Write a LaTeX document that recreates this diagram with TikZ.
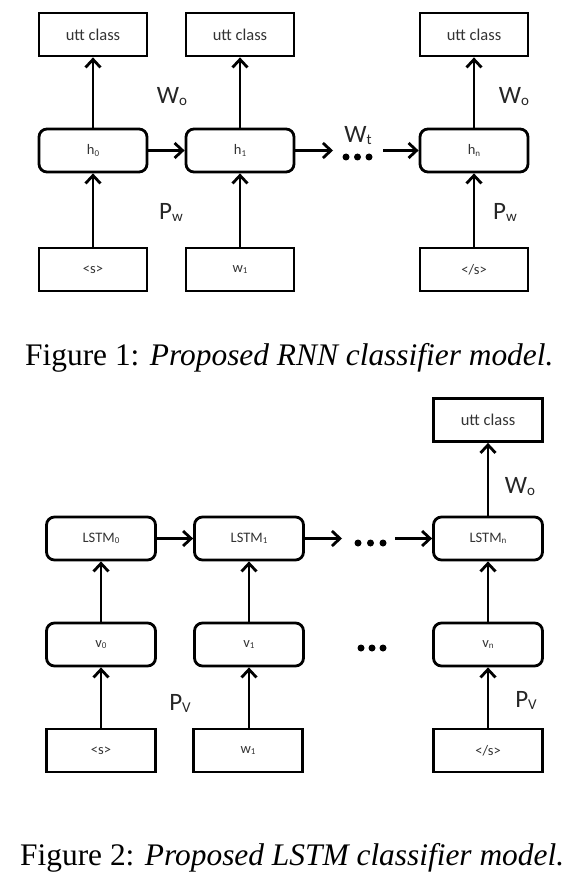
\documentclass[tikz,border=0pt]{standalone}
\usepackage{fontspec}
\setmainfont{Liberation Serif}
\newfontfamily\calfont{Carlito}
\usetikzlibrary{arrows.meta}
\newcommand\lsub[2][15]{\raisebox{-2pt}{\fontsize{#1}{#1}\selectfont #2}}
\newcommand\ssub[1]{\raisebox{-1.5pt}{\fontsize{9}{9}\selectfont #1}}
\begin{document}
\begin{tikzpicture}[x=1pt,y=-1pt,
  box/.style={draw, line width=2.8pt, minimum width=108pt, minimum height=43pt, inner sep=0pt,
    font=\calfont\fontsize{16.5}{18}\selectfont, text=black!80},
  sbox/.style={box, font=\calfont\fontsize{14.5}{16}\selectfont},
  rbox/.style={sbox, rounded corners=8pt},
  arr/.style={line width=2.8pt, -{Straight Barb[length=8pt,width=15pt,line width=2.8pt]}},
  wlabel/.style={font=\calfont\fontsize{25}{28}\selectfont, text=black!85, inner sep=0pt},
  dotnode/.style={fill=black, circle, inner sep=0pt, minimum size=7pt},
  captionnode/.style={font=\fontsize{31.4}{34}\selectfont, anchor=base west, inner sep=0pt}]
\fill[white] (0,0) rectangle (575,877);
\useasboundingbox (0,0) rectangle (575,877);

% ---------- Figure 1 ----------
\node[box] (u0) at (93,34.5) {utt class};
\node[box] (u1) at (240,34.5) {utt class};
\node[box] (u2) at (474,34.5) {utt class};
\node[rbox] (h0) at (93,150.5) {h\ssub{0}};
\node[rbox] (h1) at (240,150.5) {h\ssub{1}};
\node[rbox] (hn) at (474,150.5) {h\ssub{n}};
\node[sbox] (s0) at (93,269.5) {<s>};
\node[sbox] (w1) at (240,269.5) {w\ssub{1}};
\node[sbox] (sn) at (474,269.5) {</s>};

\draw[arr] (h0) -- (u0);
\draw[arr] (h1) -- (u1);
\draw[arr] (hn) -- (u2);
\draw[arr] (s0) -- (h0);
\draw[arr] (w1) -- (h1);
\draw[arr] (sn) -- (hn);
\draw[arr] (h0) -- (h1);
\coordinate (d1a) at (333,150.5);
\coordinate (d1b) at (383,150.5);
\draw[arr] (h1) -- (d1a);
\draw[arr] (d1b) -- (hn);
\node[dotnode] (da1) at (346,157) {};
\node[dotnode] (da2) at (357.5,157) {};
\node[dotnode] (da3) at (369,157) {};

\node[wlabel] (wo1) at (172,97) {W\lsub{o}};
\node[wlabel] (wo2) at (514,97) {W\lsub{o}};
\node[wlabel] (wt) at (358,136) {W\lsub{t}};
\node[wlabel] (pw1) at (171,212) {P\lsub{w}};
\node[wlabel] (pw2) at (505,212) {P\lsub{w}};

\node[captionnode] (cap1) at (25,365) {Figure 1: \textit{Proposed RNN classifier model.}};

% ---------- Figure 2 ----------
\node[box, minimum width=109pt] (uc) at (488,420) {utt class};
\node[rbox, minimum width=109pt] (l0) at (101,538.5) {LSTM\ssub{0}};
\node[rbox, minimum width=109pt] (l1) at (249,538.5) {LSTM\ssub{1}};
\node[rbox, minimum width=109pt] (ln) at (488,538.5) {LSTM\ssub{n}};
\node[rbox, minimum width=109pt] (v0) at (101,644.5) {v\ssub{0}};
\node[rbox, minimum width=109pt] (v1) at (249,644.5) {v\ssub{1}};
\node[rbox, minimum width=109pt] (vn) at (488,644.5) {v\ssub{n}};
\node[sbox, minimum width=109pt] (t0) at (101,750.5) {<s>};
\node[sbox, minimum width=109pt] (t1) at (248,750.5) {w\ssub{1}};
\node[sbox, minimum width=109pt] (tn) at (488,750.5) {</s>};

\draw[arr] (ln) -- (uc);
\draw[arr] (v0) -- (l0);
\draw[arr] (v1) -- (l1);
\draw[arr] (vn) -- (ln);
\draw[arr] (t0.north -| v0) -- (v0);
\draw[arr] (t1.north -| v1) -- (v1);
\draw[arr] (tn) -- (vn);
\draw[arr] (l0) -- (l1);
\coordinate (d2a) at (342,538.5);
\coordinate (d2b) at (395,538.5);
\draw[arr] (l1) -- (d2a);
\draw[arr] (d2b) -- (ln);
\node[dotnode] (db1) at (358,543) {};
\node[dotnode] (db2) at (370.5,543) {};
\node[dotnode] (db3) at (383,543) {};
\node[dotnode] (dc1) at (361,648) {};
\node[dotnode] (dc2) at (372,648) {};
\node[dotnode] (dc3) at (383,648) {};

\node[wlabel] (wo3) at (520,487) {W\lsub{o}};
\node[wlabel] (pv1) at (180,703) {P\lsub{V}};
\node[wlabel] (pv2) at (526,700) {P\lsub{V}};

\node[captionnode] (cap2) at (20,865) {Figure 2: \textit{Proposed LSTM classifier model.}};
\end{tikzpicture}
\end{document}
